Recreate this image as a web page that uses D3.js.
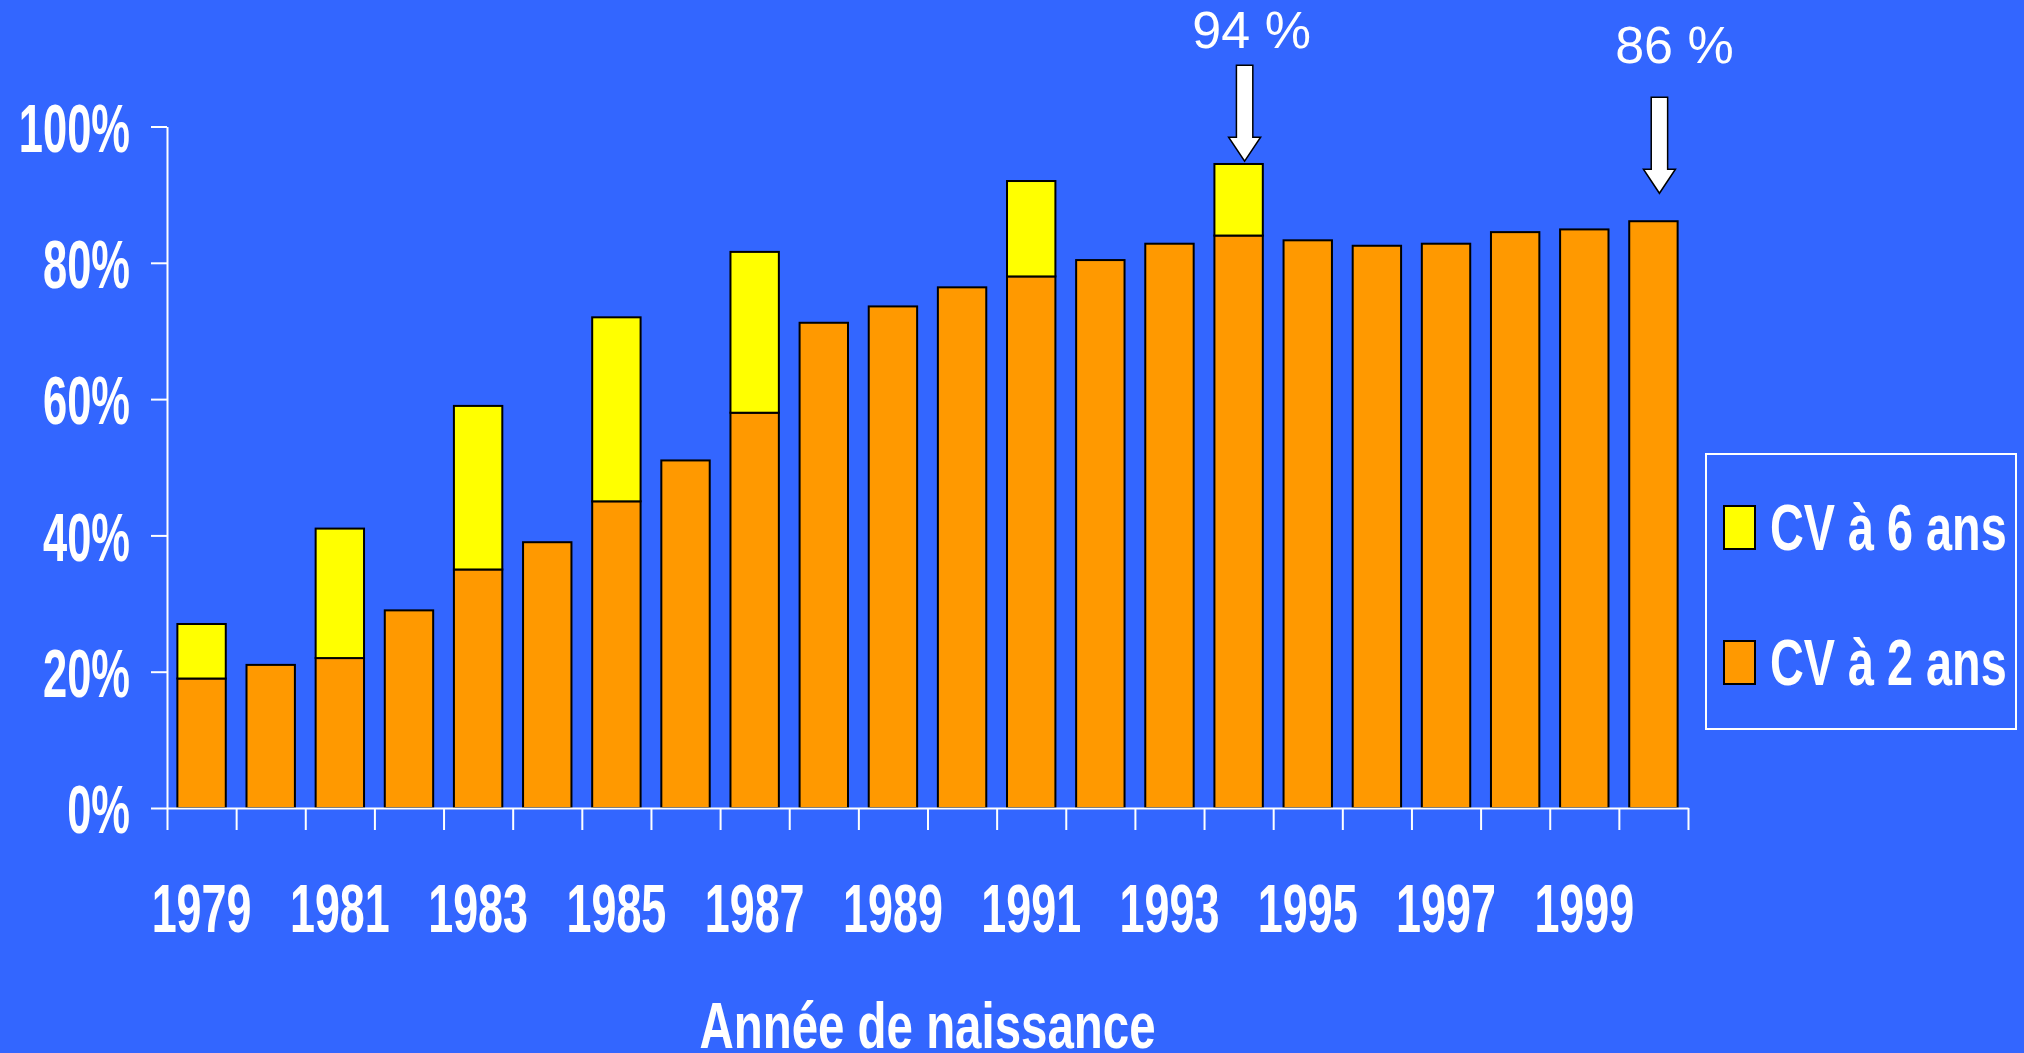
<!DOCTYPE html>
<html>
<head>
<meta charset="utf-8">
<script src="https://cdn.jsdelivr.net/npm/d3@7"></script>
<style>
  html, body { margin: 0; padding: 0; background: #3366ff; }
  svg { display: block; }
  text { font-family: "Liberation Sans", Arial, sans-serif; fill: white; }
</style>
</head>
<body>
<svg id="chart"></svg>
<script>
// donnees
const years = [1979, 1980, 1981, 1982, 1983, 1984, 1985, 1986, 1987, 1988, 1989,
  1990, 1991, 1992, 1993, 1994, 1995, 1996, 1997, 1998, 1999, 2000];
const cv2ans = [19, 21, 22, 29, 35, 39, 45, 51, 58, 71.2, 73.6,
  76.4, 78, 80.4, 82.8, 84, 83.3, 82.5, 82.8, 84.5, 84.9, 86.1];
const cv6ans = [27, null, 41, null, 59, null, 72, null, 81.6, null, null,
  null, 92, null, null, 94.5, null, null, null, null, null, null];
const yTicks = [0, 20, 40, 60, 80, 100];
const yearLabels = [1979, 1981, 1983, 1985, 1987, 1989, 1991, 1993, 1995, 1997, 1999];
const legendItems = ['CV à 6 ans', 'CV à 2 ans'];
const annotations = [
  { year: 1994, text: '94 %', top: 109, tip: 94.9, label: 111.5, dx: 7 },
  { year: 2000, text: '86 %', top: 104.3, tip: 90.2, label: 109.3, dx: 15 }
];

const width = 2024, height = 1053;
const colors = { cv2: '#ff9900', cv6: '#ffff00' };

const svg = d3.select('#chart').attr('width', width).attr('height', height);

const x = d3.scaleBand().domain(years).range([167, 1688])
  .paddingInner(0.3).paddingOuter(0.15);
const xEdges = d3.scaleLinear().domain([0, years.length]).range([167, 1688]);
const y = d3.scaleLinear().domain([0, 100]).range([808, 126.5]);

// BARRES
const bars = svg.append('g');
bars.selectAll('rect.cv2')
  .data(years)
  .join('rect')
  .attr('class', 'cv2')
  .attr('x', d => x(d))
  .attr('width', x.bandwidth())
  .attr('y', (d, i) => y(cv2ans[i]))
  .attr('height', (d, i) => y(0) - y(cv2ans[i]))
  .attr('fill', colors.cv2)
  .attr('stroke', 'black')
  .attr('stroke-width', 2);

bars.selectAll('rect.cv6')
  .data(years.filter((d, i) => cv6ans[i] != null))
  .join('rect')
  .attr('class', 'cv6')
  .attr('x', d => x(d))
  .attr('width', x.bandwidth())
  .attr('y', d => y(cv6ans[years.indexOf(d)]))
  .attr('height', d => y(cv2ans[years.indexOf(d)]) - y(cv6ans[years.indexOf(d)]))
  .attr('fill', colors.cv6)
  .attr('stroke', 'black')
  .attr('stroke-width', 2);

// AXE Y
const yAxis = svg.append('g')
  .attr('transform', `translate(${x.range()[0]},0)`)
  .call(d3.axisLeft(y).tickValues(yTicks).tickSize(16).tickSizeOuter(0)
    .tickFormat(d => d + '%'));
yAxis.selectAll('path, line').attr('stroke', 'white').attr('stroke-width', 2);
yAxis.selectAll('text')
  .attr('x', null)
  .attr('dy', '0.36em')
  .attr('transform', 'translate(-37,0) scale(0.635,1)')
  .attr('fill', 'white')
  .style('font-size', '68.5px')
  .style('font-weight', 'bold')
  .style('font-family', '"Liberation Sans", Arial, sans-serif');

// AXE X (graduations aux limites des classes)
const xAxis = svg.append('g')
  .attr('transform', `translate(0,${y(0)})`)
  .call(d3.axisBottom(xEdges).tickValues(d3.range(years.length + 1))
    .tickSize(22).tickSizeOuter(0).tickFormat(''));
xAxis.selectAll('path, line').attr('stroke', 'white').attr('stroke-width', 2);

const xLabels = svg.append('g')
  .attr('transform', `translate(0,${y(0)})`)
  .call(d3.axisBottom(x).tickValues(yearLabels).tickSize(0));
xLabels.select('.domain').remove();
xLabels.selectAll('text')
  .attr('y', null)
  .attr('dy', null)
  .attr('transform', 'translate(0,124) scale(0.66,1)')
  .attr('fill', 'white')
  .style('font-size', '68px')
  .style('font-weight', 'bold')
  .style('font-family', '"Liberation Sans", Arial, sans-serif');

// TITRE AXE
svg.append('text')
  .attr('transform', `translate(${(x.range()[0] + x.range()[1]) / 2},1048) scale(0.73,1)`)
  .attr('text-anchor', 'middle')
  .style('font-size', '65px')
  .style('font-weight', 'bold')
  .text('Année de naissance');

// FLECHES
const arrowPath = (cx, top, tip) => {
  const p = d3.path();
  const shaft = 8.2, head = 16, headLen = 24;
  p.moveTo(cx - shaft, top);
  p.lineTo(cx + shaft, top);
  p.lineTo(cx + shaft, tip - headLen);
  p.lineTo(cx + head, tip - headLen);
  p.lineTo(cx, tip);
  p.lineTo(cx - head, tip - headLen);
  p.lineTo(cx - shaft, tip - headLen);
  p.closePath();
  return p;
};
annotations.forEach(a => {
  const cx = x(a.year) + x.bandwidth() / 2 + 6;
  svg.append('path')
    .attr('d', arrowPath(cx, y(a.top), y(a.tip)))
    .attr('fill', 'white')
    .attr('stroke', 'black')
    .attr('stroke-width', 1.5);
  svg.append('text')
    .attr('x', cx + a.dx)
    .attr('y', y(a.label))
    .attr('text-anchor', 'middle')
    .style('font-size', '52px')
    .text(a.text);
});

// LEGENDE
const legend = svg.append('g');
legend.append('rect')
  .attr('x', 1706).attr('y', 454)
  .attr('width', 310).attr('height', 275)
  .attr('fill', 'none')
  .attr('stroke', 'white')
  .attr('stroke-width', 2);
legendItems.forEach((label, i) => {
  const top = 506 + i * 135;
  legend.append('rect')
    .attr('x', 1724).attr('y', top)
    .attr('width', 31).attr('height', 43)
    .attr('fill', i === 0 ? colors.cv6 : colors.cv2)
    .attr('stroke', 'black')
    .attr('stroke-width', 2);
  legend.append('text')
    .attr('transform', `translate(1770,${top + 44}) scale(0.72,1)`)
    .style('font-size', '65px')
    .style('font-weight', 'bold')
    .text(label);
});
</script>
</body>
</html>
